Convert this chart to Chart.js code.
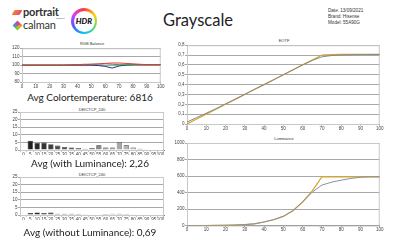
<!DOCTYPE html>
<html>
<head>
<meta charset="utf-8">
<script src="https://cdn.jsdelivr.net/npm/chart.js@4.4.1/dist/chart.umd.min.js"></script>
<style>
  body { margin: 0; width: 400px; height: 240px; overflow: hidden; background: #fff; font-family: Lato, "Open Sans", sans-serif; color: #222; }
  .abs { position: absolute; }
  canvas { position: absolute; }
  .ctitle { position: absolute; font: 4px "Liberation Sans", sans-serif; color: #333; text-align: center; width: 100px; }
  .avg { position: absolute; font-size: 10px; text-align: center; width: 160px; color: #222; white-space: nowrap; }
  .meta { position: absolute; left: 328px; top: 8px; font: 4.6px "Liberation Sans", sans-serif; line-height: 6px; color: #333; }
</style>
</head>
<body>
  <!-- header -->
  <div class="abs" style="left:13px;top:10px;width:8px;height:5px;background:linear-gradient(90deg,#f28c28,#e8457a);transform:skewX(-30deg);border-radius:1px"></div>
  <div class="abs" style="left:23px;top:5px;font:bold 11px Lato,sans-serif;letter-spacing:-0.2px;color:#333">portrait</div>
  <div class="abs" style="left:56px;top:17px;font:2.5px Lato,sans-serif;color:#555">displays</div>
  <div class="abs" style="left:14px;top:22px;width:7px;height:7px;transform:rotate(45deg);background:conic-gradient(#e84a5f,#f5a623,#7ed321,#4a90e2,#9b59b6,#e84a5f)"></div>
  <div class="abs" style="left:23px;top:18px;font:11px Lato,sans-serif;letter-spacing:-0.2px;color:#333">calman</div>
  <div class="abs" style="left:71px;top:8px;width:26px;height:26px;border-radius:50%;background:conic-gradient(#ff3b3b,#ffd400,#4cd964,#00c8ff,#4a5cff,#d63cff,#ff3b3b)">
    <div class="abs" style="left:2.5px;top:2.5px;width:21px;height:21px;border-radius:50%;background:#fff"></div>
    <div class="abs" style="left:0;top:8px;width:26px;text-align:center;font:italic 900 8px Lato,sans-serif;color:#111">HDR</div>
  </div>
  <div class="abs" style="left:163px;top:10px;font-size:16.5px;color:#222">Grayscale</div>
  <div class="meta">Date: 13/09/2021<br>Brand: Hisense<br>Model: 55A90G</div>

  <!-- chart titles -->
  <div class="ctitle" style="left:42px;top:41px">RGB Balance</div>
  <div class="ctitle" style="left:42px;top:107px">DEICTCP_240</div>
  <div class="ctitle" style="left:42px;top:172px">DEICTCP_240</div>
  <div class="ctitle" style="left:234px;top:38px">EOTF</div>
  <div class="ctitle" style="left:234px;top:136px">Luminance</div>

  <canvas id="rgb" width="160" height="45" style="left:5px;top:45px"></canvas>
  <canvas id="de1" width="164" height="47" style="left:3px;top:108px"></canvas>
  <canvas id="de2" width="164" height="47" style="left:3px;top:173px"></canvas>
  <canvas id="eotf" width="212" height="88" style="left:172px;top:42px"></canvas>
  <canvas id="lum" width="217" height="92" style="left:167px;top:139px"></canvas>

  <div class="avg" style="left:10px;top:91px">Avg Colortemperature: 6816</div>
  <div class="avg" style="left:10px;top:157px">Avg (with Luminance): 2,26</div>
  <div class="avg" style="left:10px;top:226px">Avg (without Luminance): 0,69</div>

<script>
// stimulus levels (%)
const stimulus = [0, 5, 10, 15, 20, 25, 30, 35, 40, 45, 50, 55, 60, 65, 70, 75, 80, 85, 90, 95, 100];

// RGB balance (%)
const rgbRed   = [100, 100, 100, 100, 100, 100, 100, 100.3, 100.5, 101, 101, 101.5, 102, 102.5, 102.5, 102, 101.5, 101, 100.5, 100.5, 100.5];
const rgbGreen = [100, 100, 100, 100, 100, 100, 100, 100.3, 100.5, 100.5, 101, 101, 101.5, 101, 100.5, 100.5, 100.5, 100.5, 100.5, 100.5, 100.5];
const rgbBlue  = [100, 100, 100, 100, 100, 100, 100, 100, 100, 100, 100, 99.5, 98.5, 96.5, 99, 100, 100.5, 100.5, 100.5, 100.5, 100.5];

// dE ITP
const deWithLum    = [0, 6.1, 4.6, 4.9, 3.8, 2.9, 2.0, 1.7, 1.3, 0.9, 1.3, 3.1, 1.7, 1.7, 5.1, 3.1, 1.6, 0.8, 0.5, 0.4, 0.3];
const deWithoutLum = [0, 1.3, 1.7, 1.3, 1.6, 0.9, 0.8, 0.8, 0.7, 0.5, 0.4, 0.4, 0.7, 0.9, 0.8, 0.7, 0.5, 0.4, 0.3, 0.3, 0.3];

// EOTF (PQ signal)
const eotfTarget   = [0, 0.05, 0.1, 0.15, 0.2, 0.25, 0.3, 0.35, 0.4, 0.45, 0.5, 0.55, 0.6, 0.65, 0.7, 0.705, 0.706, 0.706, 0.706, 0.706, 0.706];
const eotfMeasured = [0.02, 0.065, 0.11, 0.155, 0.205, 0.252, 0.302, 0.352, 0.4, 0.45, 0.5, 0.55, 0.6, 0.645, 0.682, 0.695, 0.7, 0.703, 0.705, 0.706, 0.706];

// Luminance (cd/m2)
const lumTarget   = [0, 0.1, 0.3, 1, 2.5, 5, 10, 20, 42, 70, 110, 180, 285, 420, 590, 590, 590, 590, 590, 590, 590];
const lumMeasured = [0, 0.1, 0.4, 1.2, 3, 6, 11, 21, 43, 72, 112, 182, 287, 405, 490, 525, 550, 570, 585, 590, 590];

const tickFont = { family: 'Liberation Sans', size: 4.5 };
const tickColor = '#444';

const boxPlugin = {
  id: 'box',
  beforeDatasetsDraw(chart) {
    const { ctx, chartArea: a } = chart;
    ctx.save();
    ctx.strokeStyle = '#c8c8c8';
    ctx.lineWidth = 1;
    ctx.strokeRect(a.left + 0.5, a.top + 0.5, a.right - a.left - 1, a.bottom - a.top);
    ctx.restore();
  }
};

function pts(ys) {
  return stimulus.map((x, i) => ({ x, y: ys[i] }));
}

function lineChart(id, datasets, y, yWidth, xHeight, pad) {
  return new Chart(document.getElementById(id), {
    type: 'line',
    data: { datasets },
    plugins: [boxPlugin],
    options: {
      responsive: false,
      animation: false,
      layout: { padding: pad },
      plugins: { legend: { display: false }, tooltip: { enabled: false } },
      elements: { point: { radius: 0 }, line: { tension: 0 } },
      scales: {
        x: {
          type: 'linear', min: 0, max: 100,
          ticks: { stepSize: 10, font: tickFont, color: tickColor, padding: 0.5, maxRotation: 0, autoSkip: false },
          grid: { drawOnChartArea: false, tickLength: 1.5, color: '#888' },
          border: { color: '#777' },
          afterFit(s) { s.height = xHeight; }
        },
        y: {
          min: y.min, max: y.max,
          ticks: { stepSize: y.step, font: tickFont, color: tickColor, padding: 0.5, autoSkip: false, callback: y.fmt },
          grid: { color: '#a8a8a8', tickLength: 2 },
          border: { color: '#777' },
          afterFit(s) { s.width = yWidth; }
        }
      }
    }
  });
}

function barChart(id, values) {
  const fills = values.map((v, i) => {
    const g = Math.round(20 + i * 10.5);
    return `rgb(${g},${g},${g})`;
  });
  return new Chart(document.getElementById(id), {
    type: 'bar',
    data: {
      labels: stimulus.map(String),
      datasets: [{ data: values, backgroundColor: fills, borderColor: '#2a2a2a', borderWidth: 0.6, barPercentage: 0.78, categoryPercentage: 1 }]
    },
    plugins: [boxPlugin],
    options: {
      responsive: false,
      animation: false,
      layout: { padding: { top: 4, right: 3 } },
      plugins: { legend: { display: false }, tooltip: { enabled: false } },
      scales: {
        x: {
          ticks: { font: tickFont, color: tickColor, padding: 0.5, maxRotation: 0, autoSkip: false },
          grid: { drawOnChartArea: false, tickLength: 1.5, color: '#888' },
          border: { color: '#777' },
          afterFit(s) { s.height = 5; }
        },
        y: {
          min: 0, max: 25,
          ticks: { stepSize: 5, font: tickFont, color: tickColor, padding: 0.5, autoSkip: false },
          grid: { color: '#a8a8a8', tickLength: 2 },
          border: { color: '#777' },
          afterFit(s) { s.width = 17; }
        }
      }
    }
  });
}

lineChart('rgb', [
  { data: pts(rgbRed), borderColor: '#e03a3a', borderWidth: 1 },
  { data: pts(rgbGreen), borderColor: '#3aa03a', borderWidth: 1 },
  { data: pts(rgbBlue), borderColor: '#2a2a9a', borderWidth: 1 }
], { min: 80, max: 120, step: 10 }, 17, 8, { top: 2, right: 2 });

barChart('de1', deWithLum);
barChart('de2', deWithoutLum);

const comma = v => String(Math.round(v * 10) / 10).replace('.', ',');

lineChart('eotf', [
  { data: pts(eotfMeasured), borderColor: '#8a8a8a', borderWidth: 1 },
  { data: pts(eotfTarget), borderColor: '#d4a52c', borderWidth: 1.2 }
], { min: 0, max: 0.8, step: 0.1, fmt: comma }, 15, 6, { top: 3, right: 3 });

lineChart('lum', [
  { data: pts(lumMeasured), borderColor: '#8a90a0', borderWidth: 1 },
  { data: pts(lumTarget), borderColor: '#d4a52c', borderWidth: 1.2 }
], { min: 0, max: 1000, step: 200 }, 20, 5.5, { top: 4, right: 3 });
</script>
</body>
</html>
